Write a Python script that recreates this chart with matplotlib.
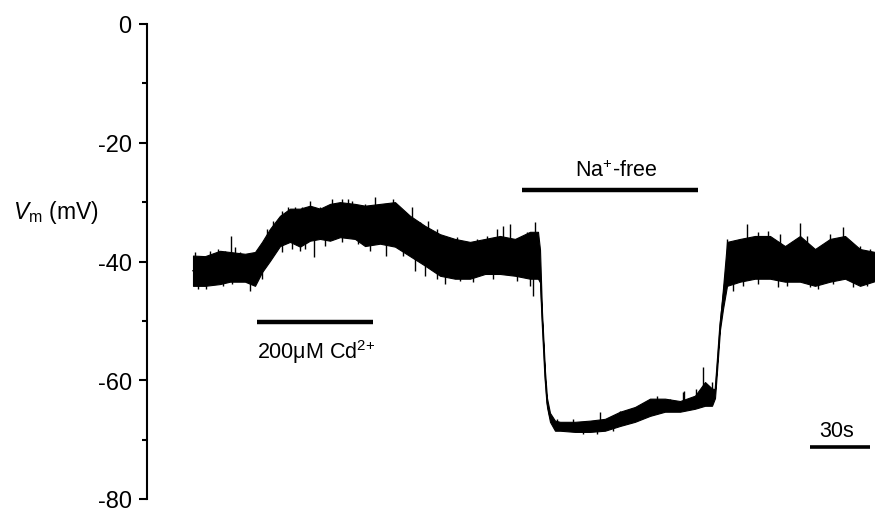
import numpy as np
import matplotlib
matplotlib.use("Agg")
import matplotlib.pyplot as plt

plt.rcParams['font.family'] = ['Liberation Sans', 'DejaVu Sans']
plt.rcParams['mathtext.fontset'] = 'custom'
plt.rcParams['mathtext.rm'] = 'Liberation Sans'
plt.rcParams['mathtext.it'] = 'Liberation Sans:italic'
plt.rcParams['mathtext.bf'] = 'Liberation Sans:bold'

# ---- data (time in s, membrane potential in mV) ----
time_s = [0, 6, 13.5, 18.5, 26, 31, 34.5, 38.5, 43.5, 48.5, 53.5, 58.5, 63.5,
          68.5, 73.5, 81, 86, 93.5, 101, 108.5, 116, 123.5, 131, 138.5, 146,
          153.5, 161, 168.5, 172.5, 173.5, 174.5, 176, 177, 178.5, 181, 183.5,
          191, 198.5, 206, 213.5, 221, 228.5, 236, 243.5, 251, 256, 259.5, 261,
          262, 263.5, 265, 267, 273.5, 281, 288.5, 296, 303.5, 311, 318.5, 326,
          333.5, 341]
vm_upper = [-39.0, -39.1, -38.2, -38.4, -38.7, -38.4, -36.7, -34.5, -32.3, -31.1,
            -31.1, -30.6, -31.1, -30.3, -30.0, -30.3, -30.6, -30.3, -30.0, -32.3,
            -34.0, -35.4, -36.2, -36.7, -36.2, -35.7, -36.2, -35.0, -35.0, -38.0,
            -48.5, -58.5, -63.0, -65.5, -66.8, -67.0, -67.0, -66.8, -66.5, -65.3,
            -64.5, -63.1, -63.1, -63.5, -62.6, -60.3, -61.4, -61.5, -57.0, -50.0,
            -44.5, -36.7, -36.2, -35.7, -35.7, -37.4, -35.7, -37.9, -36.2, -35.7,
            -37.9, -38.4]
vm_lower = [-44.1, -44.1, -43.8, -43.4, -43.4, -44.1, -41.8, -39.9, -37.4, -36.7,
            -37.5, -36.5, -36.2, -36.5, -35.9, -36.2, -37.4, -37.0, -37.5, -39.1,
            -40.7, -42.4, -42.9, -42.9, -42.1, -42.1, -42.4, -42.9, -42.9, -43.5,
            -50.0, -60.0, -64.5, -67.0, -68.5, -68.5, -68.7, -68.7, -68.5, -67.7,
            -67.0, -66.0, -65.3, -65.3, -64.8, -64.3, -64.3, -63.0, -58.5, -51.5,
            -48.0, -44.1, -43.4, -42.9, -42.9, -43.4, -43.4, -44.1, -43.4, -42.9,
            -44.1, -43.3]

# noise excursions (spike tips)
spike_t = [1, 6.5, 12.5, 19, 21, 28.5, 44.5, 47.5, 53.5, 58.5, 60.5, 69.5, 77.5,
           91, 96.5, 100, 109.5, 111, 117.5, 126, 152, 158.5, 170, 171, 203.5,
           232, 245.5, 251.5, 255, 270, 277, 287.5, 292.5, 303.5, 312.5, 325, 330,
           8.5, 16, 23.5, 37, 40, 51, 54.5, 63.5, 72, 74.5, 79.5, 86, 93.5, 105,
           113.5, 122, 132, 142, 147, 155, 167, 267, 282.5, 293.5, 299.5, 307,
           318.5, 333.5, 338.5, 182, 190, 213.5, 218.5, 223.5, 238.5, 245, 259.5,
           2.5, 15, 19.5, 34.5, 44.5, 49.5, 56, 66, 74.5, 82.5, 88.5, 105, 116,
           122, 133.5, 140, 150, 162, 168.5, 275, 282.5, 297, 308.5, 320, 337,
           185, 195, 202, 210]
spike_vm = [-38.4, -44.6, -37.9, -35.7, -37.5, -44.9, -31.5, -30.8, -38.2, -29.8,
            -39.2, -29.5, -29.5, -29.1, -39.1, -29.5, -30.8, -41.6, -33.2, -43.8,
            -34.5, -33.7, -45.8, -33.3, -65.3, -62.6, -61.8, -61.4, -57.7, -44.9,
            -33.7, -34.8, -44.3, -33.5, -44.6, -34.2, -44.3,
            -38.2, -38.2, -38.4, -34.5, -33.2, -30.8, -30.8, -30.8, -30.6, -29.5,
            -29.8, -30.3, -30.3, -32.0, -33.3, -34.5, -35.9, -36.2, -35.7, -34.0,
            -35.0, -36.2, -35.0, -35.4, -37.9, -35.7, -35.4, -37.4, -37.9, -66.5,
            -66.5, -65.2, -64.8, -64.3, -63.1, -62.0, -60.3,
            -44.6, -44.1, -43.8, -42.9, -38.4, -37.9, -37.9, -37.4, -36.7, -37.0,
            -38.2, -39.1, -42.4, -42.9, -43.3, -43.4, -42.9, -43.3, -44.1, -44.1,
            -43.8, -44.1, -44.3, -43.8, -44.1,
            -68.5, -69.0, -69.0, -68.5]

cd_bar = [32, 90]          # s
na_bar = [164.5, 252.5]    # s
scale_bar = [308.5, 338.5] # s (30 s)

y_ticks = [0, -20, -40, -60, -80]
y_tick_labels = ['0', '-20', '-40', '-60', '-80']
y_minor = [-10, -30, -50, -70]

# ---- figure ----
fig = plt.figure(figsize=(8.75, 5.1), dpi=100)
ax = fig.add_axes([147/875, 1 - 500/510, 1 - 147/875, 475/510])
ax.set_xlim(-23, 341)
ax.set_ylim(-80, 0)

t = np.array(time_s)
up = np.array(vm_upper)
lo = np.array(vm_lower)
ax.fill_between(t, lo, up, color='black', linewidth=0.8, edgecolor='black')
ax.plot(t, (up + lo) / 2, color='black', lw=1.0)

mid = np.interp(spike_t, t, (up + lo) / 2)
ax.vlines(spike_t, mid, spike_vm, color='black', lw=1.0)

# bars
ax.plot(cd_bar, [-50.2, -50.2], color='black', lw=3.2, solid_capstyle='butt')
ax.plot(na_bar, [-27.9, -27.9], color='black', lw=3.2, solid_capstyle='butt')
ax.plot(scale_bar, [-71.2, -71.2], color='black', lw=2.6, solid_capstyle='butt')

ax.text(61.5, -55.0, r'200$\mathrm{\mu}$M Cd$^{2{+}}$', fontsize=15.5,
        ha='center', va='center')
ax.text(211.5, -24.6, r'Na$^{+}$-free', fontsize=15.5, ha='center', va='center')
ax.text(322, -68.5, '30s', fontsize=15.5, ha='center', va='center')

# axes styling
for s in ['top', 'right', 'bottom']:
    ax.spines[s].set_visible(False)
ax.spines['left'].set_linewidth(1.5)
ax.set_xticks([])
ax.set_yticks(y_ticks)
ax.set_yticklabels(y_tick_labels)
ax.set_yticks(y_minor, minor=True)
ax.tick_params(axis='y', which='major', length=6, width=1.5, labelsize=17, pad=5)
ax.tick_params(axis='y', which='minor', length=3.5, width=1.5)

fig.text(13/875, 1 - 212/510, r'$V_{\mathrm{m}}$ (mV)', fontsize=16.5,
         ha='left', va='center')

fig.savefig('out.png', dpi=100)
